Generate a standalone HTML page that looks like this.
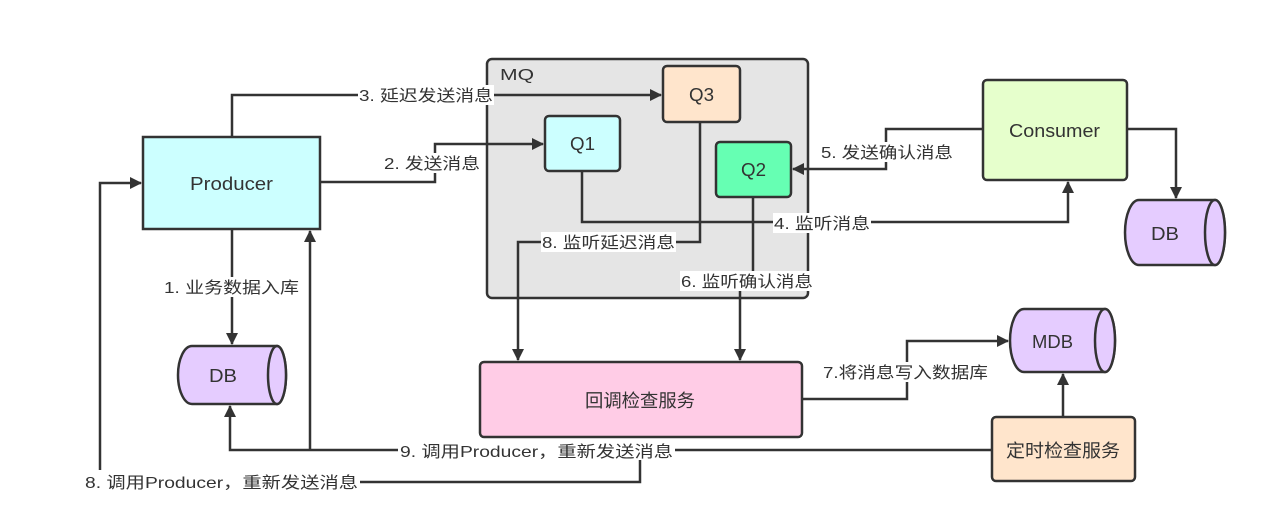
<!DOCTYPE html>
<html><head><meta charset="utf-8"><style>
html,body{margin:0;padding:0;background:#fff;}
svg{display:block;}
text{font-family:"Liberation Sans","Noto Sans CJK SC",sans-serif;fill:#333;}
.lb{font-size:16px;}
</style></head><body>
<svg width="1274" height="516" viewBox="0 0 1274 516" xmlns="http://www.w3.org/2000/svg">
<defs>
<marker id="a" markerWidth="12" markerHeight="12" refX="11" refY="6" orient="auto" markerUnits="userSpaceOnUse" viewBox="0 0 12 12">
<path d="M0,0 L12,6 L0,12 Z" fill="#333"/></marker>
</defs>
<rect width="1274" height="516" fill="#fff"/>
<rect x="487" y="59" width="321" height="239" rx="5" fill="#e5e5e5" stroke="#333" stroke-width="2.5"/>
<text x="500" y="80" font-size="16" textLength="34" lengthAdjust="spacingAndGlyphs">MQ</text>

<g fill="none" stroke="#333" stroke-width="2.5">
<polyline points="232,137 232,95 661,95" marker-end="url(#a)"/>
<polyline points="320,182 435,182 435,144 543,144" marker-end="url(#a)"/>
<polyline points="232,229 232,344" marker-end="url(#a)"/>
<polyline points="310,450 310,231" marker-end="url(#a)"/>
<polyline points="582,171 582,222 1068,222 1068,182" marker-end="url(#a)"/>
<polyline points="983,129 886,129 886,169 793,169" marker-end="url(#a)"/>
<polyline points="1127,129 1176,129 1176,198" marker-end="url(#a)"/>
<polyline points="700,122 700,242 518,242 518,360" marker-end="url(#a)"/>
<polyline points="753,197 753,281"/>
<polyline points="740,281 740,360" marker-end="url(#a)"/>
<polyline points="802,399 907,399 907,341 1008,341" marker-end="url(#a)"/>
<polyline points="1063,417 1063,374" marker-end="url(#a)"/>
<polyline points="992,450 230,450 230,406" marker-end="url(#a)"/>
<polyline points="640,455 640,482 360,482"/>
<polyline points="100,470 100,183 141,183" marker-end="url(#a)"/>
</g>

<rect x="143" y="137" width="177" height="92" fill="#ccffff" stroke="#333" stroke-width="2.5"/>
<text x="190" y="190" font-size="18" textLength="83" lengthAdjust="spacingAndGlyphs">Producer</text>
<rect x="545" y="116" width="75" height="55" rx="4" fill="#ccffff" stroke="#333" stroke-width="2.5"/>
<text x="570" y="150" font-size="18" textLength="25" lengthAdjust="spacingAndGlyphs">Q1</text>
<rect x="663" y="66" width="77" height="56" rx="4" fill="#ffe5cc" stroke="#333" stroke-width="2.5"/>
<text x="689" y="101" font-size="18" textLength="25" lengthAdjust="spacingAndGlyphs">Q3</text>
<rect x="716" y="142" width="75" height="55" rx="4" fill="#66ffb3" stroke="#333" stroke-width="2.5"/>
<text x="741" y="176" font-size="18" textLength="25" lengthAdjust="spacingAndGlyphs">Q2</text>
<rect x="983" y="80" width="144" height="100" rx="4" fill="#e6ffcc" stroke="#333" stroke-width="2.5"/>
<text x="1009" y="137" font-size="18" textLength="91" lengthAdjust="spacingAndGlyphs">Consumer</text>
<rect x="480" y="362" width="322" height="75" rx="4" fill="#ffcce6" stroke="#333" stroke-width="2.5"/>
<text x="585" y="407" font-size="18" textLength="110" lengthAdjust="spacingAndGlyphs">回调检查服务</text>
<rect x="992" y="417" width="143" height="64" rx="4" fill="#ffe5cc" stroke="#333" stroke-width="2.5"/>
<text x="1006" y="457" font-size="18" textLength="114" lengthAdjust="spacingAndGlyphs">定时检查服务</text>

<g fill="#e5ccff" stroke="#333" stroke-width="2.5">
<path d="M192,346 L277,346 A9,29 0 0 1 277,404 L192,404 A14,29 0 0 1 192,346 Z"/>
<ellipse cx="277" cy="375" rx="9" ry="29"/>
<path d="M1139,200 L1215,200 A10,32.5 0 0 1 1215,265 L1139,265 A14,32.5 0 0 1 1139,200 Z"/>
<ellipse cx="1215" cy="232.5" rx="10" ry="32.5"/>
<path d="M1024,309 L1105,309 A10,31.5 0 0 1 1105,372 L1024,372 A14,31.5 0 0 1 1024,309 Z"/>
<ellipse cx="1105" cy="340.5" rx="10" ry="31.5"/>
</g>
<text x="209" y="382" font-size="18" textLength="28" lengthAdjust="spacingAndGlyphs">DB</text>
<text x="1151" y="240" font-size="18" textLength="28" lengthAdjust="spacingAndGlyphs">DB</text>
<text x="1032" y="348" font-size="18" textLength="41" lengthAdjust="spacingAndGlyphs">MDB</text>

<g class="lb">
<rect x="358" y="85" width="136" height="20" fill="#fff"/>
<text x="359" y="101" textLength="134" lengthAdjust="spacingAndGlyphs">3. 延迟发送消息</text>
<rect x="383" y="153" width="98" height="20" fill="#fff"/>
<text x="384" y="169" textLength="96" lengthAdjust="spacingAndGlyphs">2. 发送消息</text>
<rect x="163" y="277" width="137" height="20" fill="#fff"/>
<text x="164" y="293" textLength="135" lengthAdjust="spacingAndGlyphs">1. 业务数据入库</text>
<rect x="773" y="213" width="98" height="20" fill="#fff"/>
<text x="774" y="229" textLength="96" lengthAdjust="spacingAndGlyphs">4. 监听消息</text>
<rect x="820" y="142" width="134" height="20" fill="#fff"/>
<text x="821" y="158" textLength="132" lengthAdjust="spacingAndGlyphs">5. 发送确认消息</text>
<rect x="541" y="232" width="135" height="20" fill="#fff"/>
<text x="542" y="248" textLength="133" lengthAdjust="spacingAndGlyphs">8. 监听延迟消息</text>
<rect x="680" y="271" width="134" height="20" fill="#fff"/>
<text x="681" y="287" textLength="132" lengthAdjust="spacingAndGlyphs">6. 监听确认消息</text>
<rect x="823" y="362" width="166" height="20" fill="#fff"/>
<text x="823" y="378" textLength="165" lengthAdjust="spacingAndGlyphs">7.将消息写入数据库</text>
<rect x="398" y="440" width="277" height="20" fill="#fff"/>
<text x="400" y="457" textLength="273" lengthAdjust="spacingAndGlyphs">9. 调用Producer，重新发送消息</text>
<rect x="83" y="471" width="277" height="20" fill="#fff"/>
<text x="85" y="488" textLength="273" lengthAdjust="spacingAndGlyphs">8. 调用Producer，重新发送消息</text>
</g>
</svg>
</body></html>
